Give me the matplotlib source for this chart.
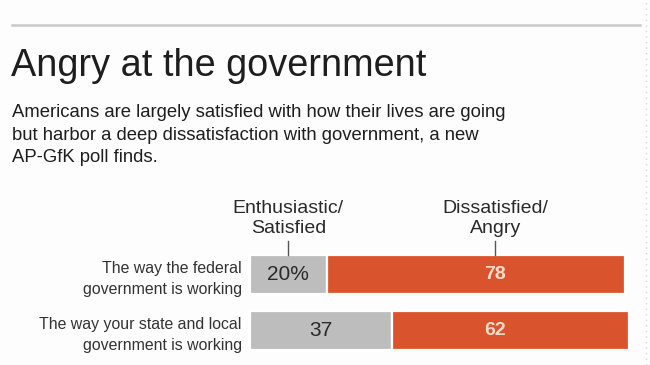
"""
Angry at the government: AP-GfK poll, stacked horizontal bars.
"""

import matplotlib.pyplot as plt
import numpy as np
from matplotlib.lines import Line2D

questions = [
    "The way the federal\ngovernment is working",
    "The way your state and local\ngovernment is working",
]
satisfied = [20, 37]
dissatisfied = [78, 62]
satisfied_labels = ["20%", "37"]
dissatisfied_labels = ["78", "62"]
column_headers = ["Enthusiastic/\nSatisfied", "Dissatisfied/\nAngry"]

title = "Angry at the government"
subtitle = (
    "Americans are largely satisfied with how their lives are going\n"
    "but harbor a deep dissatisfaction with government, a new\n"
    "AP-GfK poll finds."
)

W, H = 650, 365
GRAY = "#bdbdbd"
RED = "#d9542c"
TEXT = "#1e1e1e"

plt.rcParams["font.family"] = ["Liberation Sans", "DejaVu Sans"]


def fx(px):
    return px / W


def fy(py):
    return 1 - py / H


fig = plt.figure(figsize=(W / 100, H / 100), dpi=100)
fig.patch.set_facecolor("#fdfdfd")

# top rule and faint right border
fig.add_artist(Line2D([fx(12), fx(640)], [fy(25), fy(25)], color="#c9c9c9", linewidth=1.8))
fig.add_artist(Line2D([fx(646), fx(646)], [0, 1], color="#d8d8d8", linewidth=1.0, linestyle=(0, (1, 3))))

fig.text(fx(11), fy(76), title, fontsize=27.3, color=TEXT, va="baseline", ha="left")
# multi-line text: baseline refers to the last line here
fig.text(fx(12), fy(162), subtitle, fontsize=13.3, color=TEXT, va="baseline", ha="left",
         linespacing=1.42)

ax = fig.add_axes([fx(250), fy(358.5), fx(383), 112 / H])
ax.set_facecolor("none")

y = np.arange(len(questions))
bar_height = 0.68
ax.barh(y, satisfied, height=bar_height, color=GRAY, edgecolor="white", linewidth=1.6)
ax.barh(y, dissatisfied, left=satisfied, height=bar_height, color=RED,
        edgecolor="white", linewidth=1.6)

ax.set_xlim(0, 100)
ax.set_ylim(1.5, -0.5)

for i in range(len(questions)):
    ax.text(satisfied[i] / 2, y[i], satisfied_labels[i], ha="center", va="center",
            fontsize=15, color="#2a2a2a")
    ax.text(64, y[i], dissatisfied_labels[i], ha="center", va="center",
            fontsize=14, fontweight="bold", color="#f7dccd")

ax.set_yticks(y)
ax.set_yticklabels(questions, fontsize=11.4, color="#333333", linespacing=1.5)
ax.tick_params(axis="y", length=0, pad=6)
ax.set_xticks([])
for spine in ax.spines.values():
    spine.set_visible(False)

# column headers with small tick marks
header_x = [10, 64]
for hx, header in zip(header_x, column_headers):
    px = 250 + hx * 3.83
    fig.text(fx(px), fy(233), header, fontsize=14, color="#2a2a2a", ha="center",
             va="baseline", linespacing=1.26)
    fig.add_artist(Line2D([fx(px), fx(px)], [fy(241), fy(255)], color="#555555", linewidth=1.0))

fig.savefig("out.png", dpi=100, facecolor=fig.get_facecolor())
